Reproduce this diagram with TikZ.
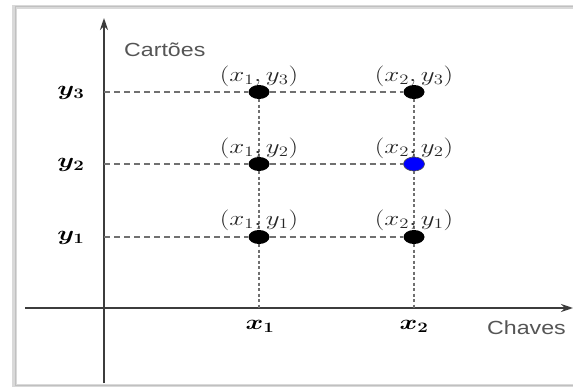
\documentclass[tikz,border=0pt]{standalone}
\usepackage{fontspec}
\usepackage{amsmath,bm}
\newfontfamily\arialf{Liberation Sans}
\usetikzlibrary{shapes.geometric,arrows.meta}
\definecolor{axisgray}{HTML}{3C3C3C}
\definecolor{dashgray}{HTML}{707070}
\definecolor{txtgray}{HTML}{555555}
\definecolor{frame}{HTML}{C0C0C0}
\tikzset{
  x=1pt,y=-1pt,
  axis/.style={draw=axisgray,line width=2.6pt,-{Stealth[length=12pt,width=8pt]}},
  hdash/.style={draw=dashgray,line width=1.6pt,dash pattern=on 6pt off 4pt},
  vdash/.style={draw=dashgray,line width=2.4pt,dash pattern=on 3pt off 2.5pt},
  pt/.style={ellipse,fill=black,minimum width=21pt,minimum height=14pt,inner sep=0pt},
  bluept/.style={pt,fill=blue,draw=black!70,line width=0.6pt},
  plabel/.style={inner sep=0pt,text=black!85,font=\fontsize{19.5}{21}\selectfont},
  alabel/.style={inner sep=0pt,font=\fontsize{21}{23}\selectfont\boldmath},
  wlabel/.style={inner sep=0pt,text=txtgray,font=\fontsize{19}{21}\selectfont\arialf}
}
\begin{document}
\begin{tikzpicture}
\useasboundingbox (0,0) rectangle (573,387);
\fill[white] (0,0) rectangle (573,387);
% frame with shadow
\fill[black!15] (12,5) rectangle (580,387);
\fill[white] (17,9) rectangle (580,384);
\draw[frame,line width=1pt] (15,7) rectangle (585,385);
% axes
\coordinate (ybot) at (104,383);
\coordinate (ytop) at (104,18);
\coordinate (xl) at (25,308);
\coordinate (xr) at (573,308);
\draw[axis] (ybot) -- (ytop);
\draw[axis] (xl) -- (xr);
% axis coordinates
\coordinate (ay3) at (104,92);
\coordinate (ay2) at (104,164);
\coordinate (ay1) at (104,237);
\coordinate (ax1) at (259,308);
\coordinate (ax2) at (414,308);
% points
\node[pt] (p13) at (259,92) {};
\node[pt] (p12) at (259,164) {};
\node[pt] (p11) at (259,237) {};
\node[pt] (p23) at (414,92) {};
\node[bluept] (p22) at (414,164) {};
\node[pt] (p21) at (414,237) {};
% dashed guides
\draw[hdash] (ay3) -- (p13.west);
\draw[hdash] (p13.east) -- (p23.west);
\draw[hdash] (ay2) -- (p12.west);
\draw[hdash] (p12.east) -- (p22.west);
\draw[hdash] (ay1) -- (p11.west);
\draw[hdash] (p11.east) -- (p21.west);
\draw[vdash] (p13.south) -- (p12.north);
\draw[vdash] (p12.south) -- (p11.north);
\draw[vdash] (p11.south) -- (ax1);
\draw[vdash] (p23.south) -- (p22.north);
\draw[vdash] (p22.south) -- (p21.north);
\draw[vdash] (p21.south) -- (ax2);
% point labels
\node[plabel] (l13) at (259,76) {\scalebox{1.3}[1]{$(x_1,y_3)$}};
\node[plabel] (l23) at (414,76) {\scalebox{1.3}[1]{$(x_2,y_3)$}};
\node[plabel] (l12) at (259,148) {\scalebox{1.3}[1]{$(x_1,y_2)$}};
\node[plabel] (l22) at (414,148) {\scalebox{1.3}[1]{$(x_2,y_2)$}};
\node[plabel] (l11) at (259,220) {\scalebox{1.3}[1]{$(x_1,y_1)$}};
\node[plabel] (l21) at (414,220) {\scalebox{1.3}[1]{$(x_2,y_1)$}};
% axis labels
\node[alabel] (ly3) at (71,93) {\scalebox{1.3}[1]{$y_3$}};
\node[alabel] (ly2) at (71,165) {\scalebox{1.3}[1]{$y_2$}};
\node[alabel] (ly1) at (71,238) {\scalebox{1.3}[1]{$y_1$}};
\node[alabel] (lx1) at (260,326) {\scalebox{1.3}[1]{$x_1$}};
\node[alabel] (lx2) at (414,326) {\scalebox{1.3}[1]{$x_2$}};
\node[wlabel,anchor=west] (cart) at (124,50) {\scalebox{1.22}[1]{Cartões}};
\node[wlabel,anchor=west] (chav) at (487,328) {\scalebox{1.22}[1]{Chaves}};
\end{tikzpicture}
\end{document}
